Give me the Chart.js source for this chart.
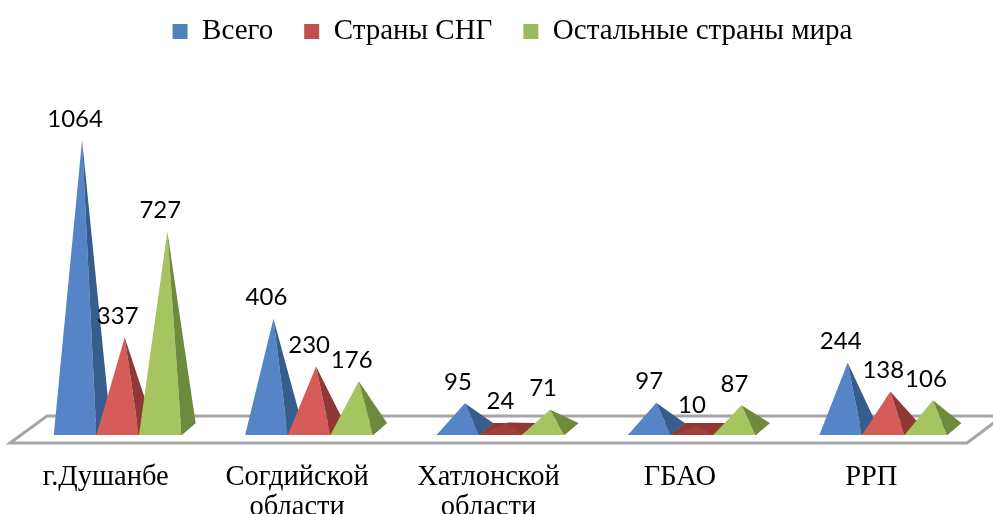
<!DOCTYPE html>
<html>
<head>
<meta charset="utf-8">
<script src="https://cdn.jsdelivr.net/npm/chart.js@4"></script>
<style>
html,body{margin:0;padding:0;background:#fff}
#wrap{width:993px;height:514px}
</style>
</head>
<body>
<div id="wrap"><canvas id="chart"></canvas></div>
<script>
const categories=["г.Душанбе",["Согдийской","области"],["Хатлонской","области"],"ГБАО","РРП"]
const totals=[1064,406,95,97,244]
const cis=[337,230,24,10,138]
const others=[727,176,71,87,106]

const mainColors=["#5585C6","#D55C59","#A6C45F"]
const sideColors=["#365D8D","#8F3836","#6E8A3C"]
const legendColors=["#4F81BD","#C0504D","#9BBB59"]

const depthX=14
const depthY=12
const shiftX=12

function face(ctx,points,color){
    ctx.beginPath()
    ctx.moveTo(points[0][0],points[0][1])
    for(let i=1;i<points.length;i++){
        ctx.lineTo(points[i][0],points[i][1])
    }
    ctx.closePath()
    ctx.fillStyle=color
    ctx.fill()
}

// every pyramid is drawn from the bar element the library placed
const pyramids={
    id:"pyramids",
    afterLayout(chart){
        // nudge the legend, it is not centred in the original
        chart.legend.left+=24
        chart.legend.right+=24
        chart.legend.top+=4
    },
    beforeDatasetsDraw(chart){
        const ctx=chart.ctx
        const area=chart.chartArea
        ctx.save()

        // floor
        ctx.beginPath()
        ctx.moveTo(area.left,area.bottom+14)
        ctx.lineTo(area.right,area.bottom+14)
        ctx.lineTo(area.right+36,area.bottom-13)
        ctx.lineTo(area.left+37,area.bottom-13)
        ctx.closePath()
        ctx.fillStyle="#fff"
        ctx.fill()
        ctx.lineWidth=3
        ctx.strokeStyle="#A6A6A6"
        ctx.stroke()

        chart.data.datasets.forEach(function(ds,d){
            chart.getDatasetMeta(d).data.forEach(function(bar,i){
                const half=bar.width/2
                const left=bar.x-half+shiftX
                const right=bar.x+half+shiftX
                const front=bar.base+6
                const back=front-depthY
                const apex=[bar.x+shiftX+depthX/2,bar.y]
                const low=ds.data[i]<50
                face(ctx,[[left,front],[left+depthX,back],[right+depthX,back],[right,front]],sideColors[d])
                face(ctx,[[left,front],[right,front],apex],low?"#A03E3B":mainColors[d])
                face(ctx,[[right,front],[right+depthX,back],apex],sideColors[d])
            })
        })

        ctx.fillStyle="#000"
        ctx.font="24px Lato"
        ctx.textAlign="center"
        ctx.textBaseline="middle"
        chart.data.datasets.forEach(function(ds,d){
            chart.getDatasetMeta(d).data.forEach(function(bar,i){
                ctx.fillText(String(ds.data[i]),bar.x+shiftX,bar.y-21)
            })
        })
        ctx.restore()
        return false
    }
}

new Chart(document.getElementById("chart"),{
    type:"bar",
    data:{
        labels:categories,
        datasets:[
            {label:"Всего",data:totals,backgroundColor:legendColors[0]},
            {label:"Страны СНГ",data:cis,backgroundColor:legendColors[1]},
            {label:"Остальные страны мира",data:others,backgroundColor:legendColors[2]}
        ]
    },
    options:{
        responsive:true,
        maintainAspectRatio:false,
        animation:false,
        categoryPercentage:0.668,
        barPercentage:1,
        layout:{padding:{left:10,right:26,top:-18,bottom:0}},
        plugins:{
            tooltip:{enabled:false},
            legend:{
                position:"top",
                labels:{
                    color:"#000",
                    boxWidth:15,
                    boxHeight:15,
                    padding:31,
                    font:{family:"Liberation Serif",size:29}
                }
            }
        },
        scales:{
            x:{
                grid:{display:false},
                border:{display:false},
                afterFit(axis){axis.height=85},
                ticks:{
                    color:"#000",
                    maxRotation:0,
                    autoSkip:false,
                    padding:26,
                    font:{family:"Liberation Serif",size:28.5,lineHeight:1.05}
                }
            },
            y:{display:false,min:0,max:1388}
        }
    },
    plugins:[pyramids]
})
</script>
</body>
</html>
